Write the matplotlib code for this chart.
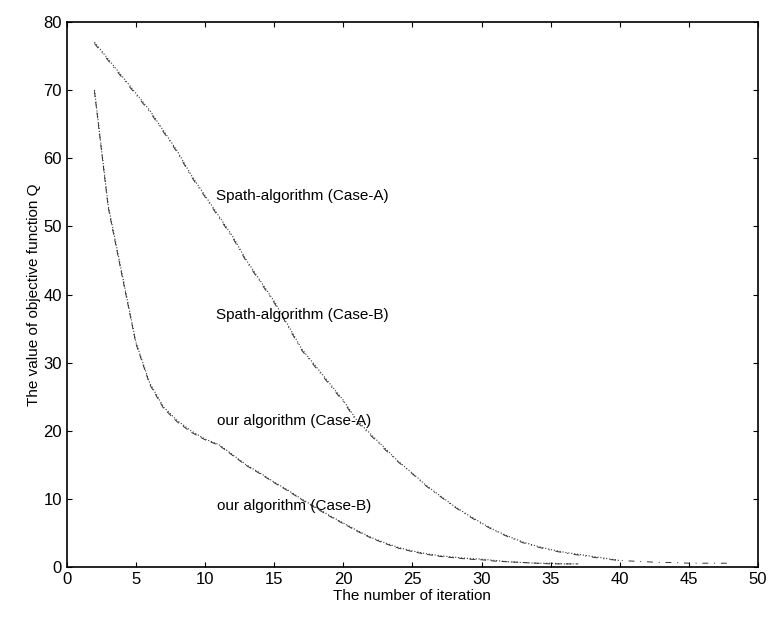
import matplotlib.pyplot as plt

plt.rcParams['font.family'] = ['Liberation Sans', 'DejaVu Sans']

# Spath-algorithm curves
spath_x = list(range(2, 49))
spath_a = [77, 74.5, 72, 69.5, 67, 64, 61, 57.5, 54.5, 51.5, 48.5, 45, 42, 39,
           35.5, 32, 29.5, 27, 24.5, 21.5, 19.5, 17.5, 15.5, 13.8, 12, 10.5, 9,
           7.7, 6.5, 5.4, 4.5, 3.7, 3.1, 2.6, 2.2, 1.9, 1.6, 1.3, 1.0,
           0.9, 0.8, 0.8, 0.7, 0.7, 0.6, 0.6, 0.6]
spath_b = [76.8, 74.3, 71.8, 69.3, 66.8, 63.8, 60.8, 57.3, 54.3, 51.3, 48.3, 44.8, 41.8, 38.8,
           35.3, 31.8, 29.3, 26.8, 24.3, 21.3, 19.3, 17.3, 15.4, 13.7, 11.9, 10.4, 8.9,
           7.6, 6.4, 5.3, 4.4, 3.6, 3.0, 2.5, 2.1, 1.8, 1.5, 1.2, 1.0,
           0.9, 0.8, 0.7, 0.7, 0.6, 0.6, 0.6, 0.6]

# our algorithm curves
our_x = list(range(2, 38))
our_a = [70, 53, 43, 33, 27, 23.5, 21.5, 20, 18.8, 18, 16.5, 15, 13.8, 12.5,
         11.3, 10, 8.8, 7.6, 6.5, 5.4, 4.4, 3.6, 2.9, 2.4, 2.0, 1.7, 1.5, 1.3,
         1.2, 1.0, 0.8, 0.7, 0.6, 0.6, 0.5, 0.5]
our_b = [69.8, 52.7, 42.7, 32.8, 26.8, 23.3, 21.3, 19.8, 18.7, 17.9, 16.4, 14.9, 13.7, 12.4,
         11.2, 9.9, 8.7, 7.5, 6.4, 5.3, 4.3, 3.5, 2.8, 2.3, 1.9, 1.6, 1.4, 1.2,
         1.1, 0.9, 0.8, 0.7, 0.6, 0.5, 0.5, 0.5]

fig = plt.figure(figsize=(7.68, 6.2), dpi=100)
ax = fig.add_axes([0.087, 0.085, 0.9, 0.88])

ax.plot(spath_x[:39], spath_a[:39], color='#333333', linestyle=':', linewidth=0.8)
ax.plot(spath_x, spath_b, color='#333333', linestyle=(0, (6, 6, 1, 6)), linewidth=0.7)
ax.plot(our_x, our_a, color='#333333', linestyle=':', linewidth=0.8)
ax.plot(our_x, our_b, color='#333333', linestyle=(0, (6, 5)), linewidth=0.7)

ax.text(10.8, 54.5, 'Spath-algorithm (Case-A)', fontsize=11, va='center')
ax.text(10.8, 37, 'Spath-algorithm (Case-B)', fontsize=11, va='center')
ax.text(10.9, 21.4, 'our algorithm (Case-A)', fontsize=11, va='center')
ax.text(10.9, 9, 'our algorithm (Case-B)', fontsize=11, va='center')

ax.set_xlim(0, 50)
ax.set_ylim(0, 80)
ax.set_xticks(range(0, 51, 5))
ax.set_yticks(range(0, 81, 10))
ax.tick_params(direction='in', top=True, right=True, labelsize=12)
for s in ax.spines.values():
    s.set_linewidth(1.2)
ax.set_xlabel('The number of iteration', fontsize=11, labelpad=1)
ax.set_ylabel('The value of objective function Q', fontsize=11, labelpad=2)

fig.savefig('out.png')
